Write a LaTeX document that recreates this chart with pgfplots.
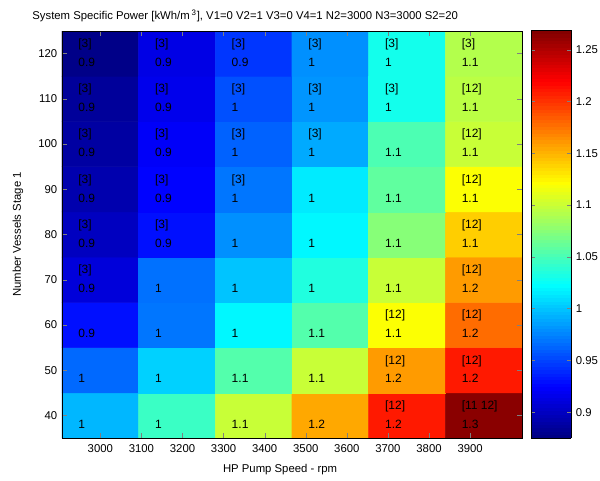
\documentclass[border=0pt]{standalone}
\usepackage{pgfplots}
\pgfplotsset{compat=1.18}
\usepackage{pgfplotstable}
\usepackage{fontspec}
\setmainfont{Liberation Sans}

\pgfplotstableread{
x y v
3000 40 0.995
3186.6 40 1.045
3373.2 40 1.100
3559.8 40 1.155
3746.4 40 1.210
3933 40 1.265
3000 50 0.965
3186.6 50 1.005
3373.2 50 1.055
3559.8 50 1.100
3746.4 50 1.160
3933 50 1.210
3000 60 0.930
3186.6 60 0.970
3373.2 60 1.020
3559.8 60 1.055
3746.4 60 1.120
3933 60 1.178
3000 70 0.910
3186.6 70 0.968
3373.2 70 1.000
3559.8 70 1.035
3746.4 70 1.100
3933 70 1.160
3000 80 0.900
3186.6 80 0.930
3373.2 80 0.980
3559.8 80 1.020
3746.4 80 1.075
3933 80 1.140
3000 90 0.893
3186.6 90 0.925
3373.2 90 0.970
3559.8 90 1.015
3746.4 90 1.060
3933 90 1.120
3000 100 0.888
3186.6 100 0.922
3373.2 100 0.962
3559.8 100 0.990
3746.4 100 1.052
3933 100 1.100
3000 110 0.885
3186.6 110 0.917
3373.2 110 0.955
3559.8 110 0.982
3746.4 110 1.030
3933 110 1.095
3000 120 0.878
3186.6 120 0.914
3373.2 120 0.945
3559.8 120 0.980
3746.4 120 1.030
3933 120 1.092
}\heat

\pgfplotstableread[col sep=comma]{
x,y,t
2946,122.05,[3]
3132.6,122.05,[3]
3319.2,122.05,[3]
3505.8,122.05,[3]
3692.4,122.05,[3]
3879,122.05,[3]
2946,112.05,[3]
3132.6,112.05,[3]
3319.2,112.05,[3]
3505.8,112.05,[3]
3692.4,112.05,[3]
3879,112.05,[12]
2946,102.05,[3]
3132.6,102.05,[3]
3319.2,102.05,[3]
3505.8,102.05,[3]
3879,102.05,[12]
2946,92.05,[3]
3132.6,92.05,[3]
3319.2,92.05,[3]
3879,92.05,[12]
2946,82.05,[3]
3132.6,82.05,[3]
3879,82.05,[12]
2946,72.05,[3]
3879,72.05,[12]
3692.4,62.05,[12]
3879,62.05,[12]
3692.4,52.05,[12]
3879,52.05,[12]
3692.4,42.05,[12]
3879,42.05,[11 12]
}\labs

\pgfplotstableread[col sep=comma]{
x,y,t
2946,118.1,0.9
3132.6,118.1,0.9
3319.2,118.1,0.9
3505.8,118.1,1
3692.4,118.1,1
3879,118.1,1.1
2946,108.1,0.9
3132.6,108.1,0.9
3319.2,108.1,1
3505.8,108.1,1
3692.4,108.1,1
3879,108.1,1.1
2946,98.1,0.9
3132.6,98.1,0.9
3319.2,98.1,1
3505.8,98.1,1
3692.4,98.1,1.1
3879,98.1,1.1
2946,88.1,0.9
3132.6,88.1,0.9
3319.2,88.1,1
3505.8,88.1,1
3692.4,88.1,1.1
3879,88.1,1.1
2946,78.1,0.9
3132.6,78.1,0.9
3319.2,78.1,1
3505.8,78.1,1
3692.4,78.1,1.1
3879,78.1,1.1
2946,68.1,0.9
3132.6,68.1,1
3319.2,68.1,1
3505.8,68.1,1
3692.4,68.1,1.1
3879,68.1,1.2
2946,58.1,0.9
3132.6,58.1,1
3319.2,58.1,1
3505.8,58.1,1.1
3692.4,58.1,1.1
3879,58.1,1.2
2946,48.1,1
3132.6,48.1,1
3319.2,48.1,1.1
3505.8,48.1,1.1
3692.4,48.1,1.2
3879,48.1,1.2
2946,38.1,1
3132.6,38.1,1
3319.2,38.1,1.1
3505.8,38.1,1.2
3692.4,38.1,1.2
3879,38.1,1.3
}\vals

\begin{document}
\begin{tikzpicture}
\useasboundingbox (-46.5pt,-31.5pt) rectangle (403.5pt,328.5pt);
\begin{axis}[
  scale only axis, width=345pt, height=305.25pt,
  at={(0,0)}, anchor=south west,
  xmin=2906.7, xmax=4026.3, ymin=35, ymax=125,
  xtick={3000,3100,...,3900}, ytick={40,50,...,120},
  tick align=inside, major tick length=3.8pt,
  font=\fontsize{8.5}{10}\selectfont,
  /pgf/number format/assume math mode=true,
  /pgf/number format/1000 sep={},
  tick label style={font=\fontsize{8.5}{10}\selectfont},
  xticklabel style={yshift=-1.5pt},
  colormap/jet,
  point meta min=0.875, point meta max=1.269,
  colorbar sampled,
  colorbar style={
    scale only axis,
    samples=120,
    at={(parent axis.south east)}, anchor=south west, xshift=-1.7pt,
    width=30pt, height=306pt,
    ytick={0.9,0.95,1,1.05,1.1,1.15,1.2,1.25},
    yticklabels={0.9,0.95,1,1.05,1.1,1.15,1.2,1.25},
    tick align=inside, major tick length=3pt,
    ytick pos=both, yticklabel pos=right,
    tick label style={font=\fontsize{8.5}{10}\selectfont},
  },
  title={System Specific Power [kWh/m\,\textsuperscript{3}], V1=0 V2=1 V3=0 V4=1 N2=3000 N3=3000 S2=20},
  title style={at={(axis description cs:-0.065,1)}, anchor=base west, yshift=3pt, inner sep=0pt, font=\fontsize{8.5}{10}\selectfont},
  xlabel={HP Pump Speed - rpm},
  xlabel style={at={(axis description cs:0.474,-0.0786)}, anchor=center},
  ylabel={Number Vessels Stage 1},
  ylabel style={at={(axis description cs:-0.0957,0.5)}, anchor=center},
  axis on top,
]
\addplot[matrix plot*, mesh/cols=6, point meta=explicit] table[meta=v] {\heat};
\addplot[only marks, mark=none, nodes near coords, point meta=explicit symbolic,
  nodes near coords style={anchor=west, inner sep=0pt, font=\fontsize{9}{10}\selectfont, text=black}]
  table[x=x, y=y, meta=t] {\labs};
\addplot[only marks, mark=none, nodes near coords, point meta=explicit symbolic,
  nodes near coords style={anchor=west, inner sep=0pt, font=\fontsize{9}{10}\selectfont, text=black}]
  table[x=x, y=y, meta=t] {\vals};
\end{axis}
\end{tikzpicture}
\end{document}
